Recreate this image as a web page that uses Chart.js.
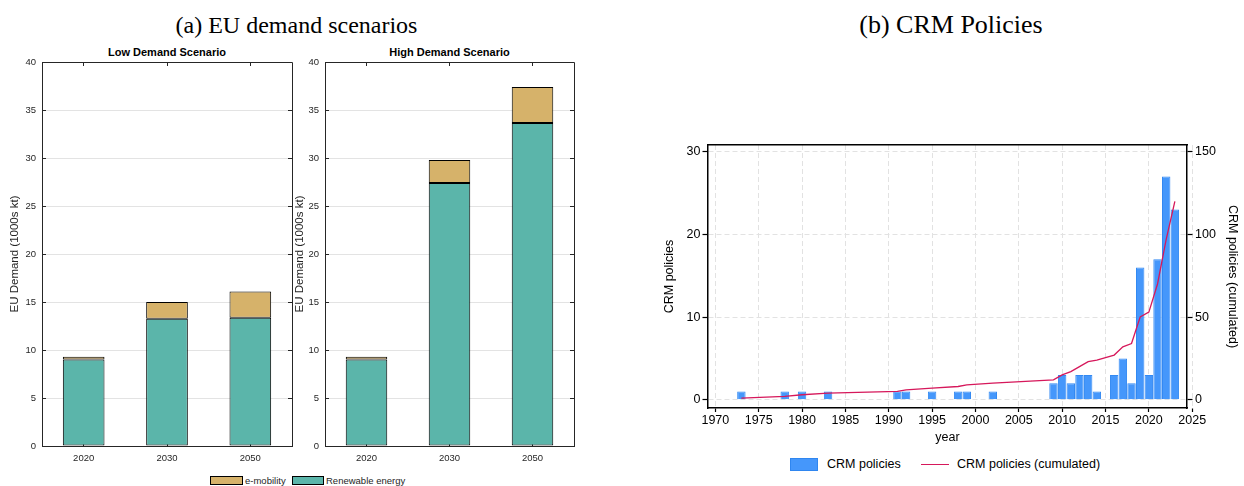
<!DOCTYPE html>
<html><head><meta charset="utf-8">
<script src="https://cdn.jsdelivr.net/npm/chart.js@4.4.1/dist/chart.umd.min.js"></script>
<style>
html,body{margin:0;padding:0;background:#fff;}
#wrap{position:relative;width:1244px;height:486px;overflow:hidden;background:#fff;}
canvas{position:absolute;}
.t{position:absolute;white-space:nowrap;line-height:1;}
.serif{font-family:'Liberation Serif','Times New Roman',serif;color:#000;}
.sans{font-family:'Liberation Sans',Arial,sans-serif;}
.box{position:absolute;box-sizing:border-box;}
</style></head><body><div id="wrap">
<div class="t serif" style="left:0;width:593px;text-align:center;top:13px;font-size:24px;">(a) EU demand scenarios</div>
<div class="t serif" style="left:751px;width:400px;text-align:center;top:11.5px;font-size:26px;">(b) CRM Policies</div>
<div class="t sans" style="left:67px;width:200px;text-align:center;top:47.3px;font-size:11px;font-weight:bold;color:#000;">Low Demand Scenario</div>
<div class="t sans" style="left:349.5px;width:200px;text-align:center;top:47.3px;font-size:11px;font-weight:bold;color:#000;">High Demand Scenario</div>

<canvas id="c1" width="293" height="430" style="left:0;top:40px"></canvas>
<canvas id="c2" width="285" height="430" style="left:290px;top:40px"></canvas>
<canvas id="c3" width="594" height="317" style="left:650px;top:131px"></canvas>

<div class="box" style="left:210px;top:476px;width:33px;height:9px;background:#d6b26a;border:1px solid #000;"></div>
<div class="t sans" style="left:245px;top:475.5px;font-size:9.5px;color:#262626;">e-mobility</div>
<div class="box" style="left:292px;top:476px;width:32px;height:9px;background:#5bb5aa;border:1px solid #000;"></div>
<div class="t sans" style="left:326px;top:475.5px;font-size:9.5px;color:#262626;">Renewable energy</div>

<div class="box" style="left:790px;top:458px;width:28px;height:12.5px;background:#4597fb;border:1px solid #2f86f0;"></div>
<div class="t sans" style="left:827px;top:458.2px;font-size:12.5px;color:#000;">CRM policies</div>
<div class="box" style="left:921px;top:463.7px;width:27.5px;height:1.3px;background:#d6185b;"></div>
<div class="t sans" style="left:957px;top:458.2px;font-size:12.5px;color:#000;">CRM policies (cumulated)</div>
</div>
<script>
// ---- (a) EU demand scenarios ----
const demandYears = ['2020', '2030', '2050'];
const lowRenewable = [9.0, 13.25, 13.35];
const lowEmobility = [0.3, 1.75, 2.75];
const highRenewable = [9.0, 27.4, 33.65];
const highEmobility = [0.3, 2.4, 3.75];
const demandTicks = [0, 5, 10, 15, 20, 25, 30, 35, 40];

// ---- (b) CRM policies ----
const policyYears = [1973, 1978, 1980, 1983, 1991, 1992, 1995, 1998, 1999, 2002, 2009, 2010, 2011, 2012, 2013, 2014, 2016, 2017, 2018, 2019, 2020, 2021, 2022, 2023];
const policyCounts = [1, 1, 1, 1, 1, 1, 1, 1, 1, 1, 2, 3, 2, 3, 3, 1, 3, 5, 2, 16, 3, 17, 27, 23];
const policyCumulated = [1, 2, 3, 4, 5, 6, 7, 8, 9, 10, 12, 15, 17, 20, 23, 24, 27, 32, 34, 50, 53, 70, 97, 120];
const yearTicks = [1970, 1975, 1980, 1985, 1990, 1995, 2000, 2005, 2010, 2015, 2020, 2025];
const policyTicks = [0, 10, 20, 30];
const cumulatedTicks = [0, 50, 100, 150];

Chart.defaults.font.family = "'Liberation Sans', Arial, sans-serif";
Chart.defaults.animation = false;

const al = p => Math.round(p - 0.5) + 0.5;
const matlabBox = {
  id: 'matlabBox',
  beforeDatasetsDraw(chart) {
    const {ctx, chartArea: a, scales: {x, y}} = chart;
    ctx.save();
    ctx.strokeStyle = '#262626';
    ctx.lineWidth = 1;
    ctx.beginPath();
    y.ticks.forEach(t => {
      const py = al(y.getPixelForValue(t.value));
      ctx.moveTo(a.left, py); ctx.lineTo(a.left + 4, py);
      ctx.moveTo(a.right, py); ctx.lineTo(a.right - 4, py);
    });
    x.ticks.forEach((t, i) => {
      const px = al(x.getPixelForTick(i));
      ctx.moveTo(px, a.top); ctx.lineTo(px, a.top + 4);
      ctx.moveTo(px, a.bottom); ctx.lineTo(px, a.bottom - 4);
    });
    ctx.stroke();
    ctx.restore();
  },
  afterDraw(chart) {
    const {ctx, chartArea: a} = chart;
    ctx.save();
    ctx.strokeStyle = '#262626';
    ctx.lineWidth = 1;
    ctx.beginPath();
    ctx.moveTo(al(a.left), al(a.top)); ctx.lineTo(al(a.right), al(a.top));
    ctx.lineTo(al(a.right), al(a.bottom));
    ctx.stroke();
    ctx.restore();
  }
};

function demandChart(id, renew, emob, axisW, titlePad, padRight) {
  return new Chart(document.getElementById(id), {
    type: 'bar',
    data: {
      labels: demandYears,
      datasets: [
        {label: 'Renewable energy', data: renew, backgroundColor: '#5bb5aa', borderColor: '#000', borderWidth: 1, borderSkipped: false},
        {label: 'e-mobility', data: emob, backgroundColor: '#d6b26a', borderColor: '#000', borderWidth: 1, borderSkipped: false}
      ]
    },
    options: {
      responsive: false,
      animation: false,
      categoryPercentage: 0.5,
      barPercentage: 1,
      layout: {padding: {top: 22, right: padRight, left: 0, bottom: 0}},
      plugins: {legend: {display: false}, tooltip: {enabled: false}},
      scales: {
        x: {
          stacked: true,
          grid: {display: false, drawTicks: false},
          border: {color: '#262626', width: 1},
          ticks: {color: '#262626', font: {size: 9.5}, padding: 6.3, maxRotation: 0},
          afterFit: s => { s.height = 24; }
        },
        y: {
          stacked: true,
          min: 0, max: 40,
          afterBuildTicks: s => { s.ticks = demandTicks.map(v => ({value: v})); },
          grid: {color: '#e3e3e3', drawTicks: false},
          border: {color: '#262626', width: 1},
          ticks: {color: '#262626', font: {size: 9.5}, padding: 6, callback: v => String(v)},
          title: {display: true, text: 'EU Demand (1000s kt)', color: '#262626', font: {size: 11.5}, padding: {top: titlePad, bottom: 0}},
          afterFit: s => { s.width = axisW; }
        }
      }
    },
    plugins: [matlabBox]
  });
}
demandChart('c1', lowRenewable, lowEmobility, 42, 8.1, 1);
demandChart('c2', highRenewable, highEmobility, 35, 3.1, 1);

new Chart(document.getElementById('c3'), {
  type: 'bar',
  data: {
    datasets: [
      {type: 'line', label: 'CRM policies (cumulated)', data: policyYears.map((yr, i) => ({x: yr, y: policyCumulated[i]})),
       xAxisID: 'x', yAxisID: 'y2', borderColor: '#d6185b', borderWidth: 1.3, pointRadius: 0, tension: 0, fill: false, order: 0},
      {type: 'bar', label: 'CRM policies', data: policyYears.map((yr, i) => ({x: yr, y: policyCounts[i]})),
       xAxisID: 'x', yAxisID: 'y', backgroundColor: '#4597fb', borderColor: '#3389f2', borderWidth: 1,
       barPercentage: 0.97, categoryPercentage: 1, order: 1}
    ]
  },
  options: {
    responsive: false,
    animation: false,
    layout: {padding: {top: 14, left: 0, right: 0, bottom: 0}},
    plugins: {legend: {display: false}, tooltip: {enabled: false}},
    scales: {
      x: {
        type: 'linear', position: 'bottom', min: 1969.15, max: 2024.4, offset: false,
        afterBuildTicks: s => { s.ticks = yearTicks.map(v => ({value: v})); },
        ticks: {autoSkip: false, maxRotation: 0, padding: 1, color: '#000', font: {size: 12.5}, callback: v => String(v)},
        grid: {offset: false, color: '#e2e2e2', lineWidth: 1, tickColor: '#000', tickLength: 4, tickWidth: 1.2},
        border: {color: '#000', width: 1.5, dash: [5, 3]},
        title: {display: true, text: 'year', color: '#000', font: {size: 12.5}, padding: {top: 0, bottom: 2.5}},
        afterFit: s => { s.height = 40; }
      },
      xTop: {
        type: 'linear', position: 'top', min: 0, max: 1, offset: false,
        ticks: {display: false},
        grid: {display: false, drawTicks: false},
        border: {color: '#000', width: 1.5},
        afterFit: s => { s.height = 0; }
      },
      y: {
        type: 'linear', position: 'left', min: -1.0, max: 30.81,
        afterBuildTicks: s => { s.ticks = policyTicks.map(v => ({value: v})); },
        ticks: {padding: 2, color: '#000', font: {size: 12.5}, callback: v => String(v)},
        grid: {color: '#e2e2e2', lineWidth: 1, tickColor: '#000', tickLength: 5.5, tickWidth: 1.2},
        border: {color: '#000', width: 1.5, dash: [5, 3]},
        title: {display: true, text: 'CRM policies', color: '#000', font: {size: 12.5}, padding: {top: 12, bottom: 0}},
        afterFit: s => { s.width = 58; }
      },
      y2: {
        type: 'linear', position: 'right', min: -5, max: 154.05,
        afterBuildTicks: s => { s.ticks = cumulatedTicks.map(v => ({value: v})); },
        ticks: {padding: 2.5, color: '#000', font: {size: 12.5}, callback: v => String(v)},
        grid: {drawOnChartArea: false, tickColor: '#000', tickLength: 5.5, tickWidth: 1.2},
        border: {color: '#000', width: 1.5},
        title: {display: true, text: 'CRM policies (cumulated)', color: '#000', font: {size: 12.5}, padding: {top: 4.5, bottom: 0}},
        afterFit: s => { s.width = 57; }
      }
    }
  }
});
</script>
</body></html>
